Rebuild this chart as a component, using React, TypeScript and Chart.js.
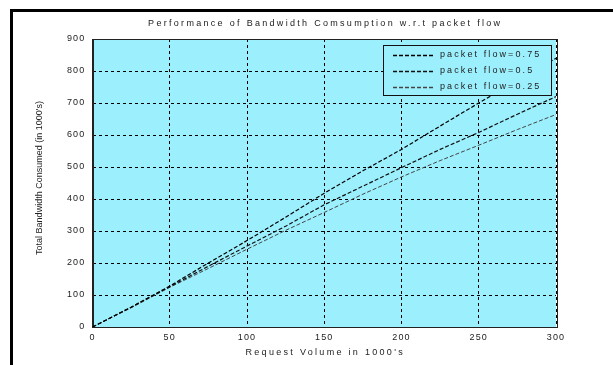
import React, { useEffect, useRef } from 'react';
import { Chart, registerables } from 'chart.js';

Chart.register(...registerables);

const chartTitle = 'Performance of Bandwidth Comsumption w.r.t packet flow';
const xAxisTitle = "Request Volume in 1000's";
const yAxisTitle = "Total Bandwidth Consumed (in 1000's)";

const requestVolume = [0, 25, 50, 75, 100, 125, 150, 175, 200, 225, 250, 275, 300];
const flow075 = [0, 62, 128, 200, 270, 343, 418, 488, 555, 628, 700, 770, 840];
const flow05 = [0, 62, 126, 190, 253, 315, 382, 440, 498, 555, 608, 665, 720];
const flow025 = [0, 60, 124, 183, 243, 302, 358, 415, 469, 520, 568, 617, 664];
const seriesLabels = ['packet flow=0.75', 'packet flow=0.5', 'packet flow=0.25'];
const seriesColors = ['#000000', '#111111', '#444444'];
const seriesWidths = [1.2, 1.2, 1];
const xMin = 0, xMax = 300, xStep = 50;
const yMin = 0, yMax = 900, yStep = 100;

const FONT = '"Liberation Sans", Arial, sans-serif';
const CYAN = '#9cf0fd';

const decorPlugin = {
  id: 'decor',
  afterUpdate(chart: any) {
    ['x', 'y'].forEach((id) => {
      const s = chart.scales[id];
      if (s && !s.__wrapped) {
        const orig = s.drawLabels.bind(s);
        s.drawLabels = (area: any) => {
          const ctx = chart.ctx;
          ctx.save();
          ctx.letterSpacing = '1.2px';
          orig(area);
          ctx.restore();
        };
        s.__wrapped = true;
      }
    });
  },
  beforeDraw(chart: any) {
    const { ctx, chartArea: a } = chart;
    ctx.save();
    ctx.fillStyle = '#ffffff';
    ctx.fillRect(0, 0, chart.width, chart.height);
    ctx.fillStyle = CYAN;
    ctx.fillRect(a.left, a.top, a.right - a.left, a.bottom - a.top);
    ctx.restore();
  },
  beforeDatasetsDraw(chart: any) {
    const { ctx, chartArea: a } = chart;
    ctx.save();
    ctx.strokeStyle = '#222';
    ctx.lineWidth = 1;
    ctx.strokeRect(Math.round(a.left) + 0.5, Math.round(a.top) + 0.5, Math.round(a.right - a.left), Math.round(a.bottom - a.top));
    ctx.restore();
  },
  afterDraw(chart: any) {
    const { ctx, chartArea: a } = chart;
    ctx.save();
    // outer frame (top and left edges)
    ctx.fillStyle = '#000';
    ctx.fillRect(10, 9, 3, chart.height - 9);
    ctx.fillRect(10, 9, chart.width - 10, 3);

    ctx.fillStyle = '#222';
    ctx.font = `9px ${FONT}`;
    ctx.textBaseline = 'middle';
    ctx.textAlign = 'center';
    const cx = (a.left + a.right) / 2;
    ctx.letterSpacing = '2.3px';
    ctx.fillText(chartTitle, cx + 1, 24);
    ctx.fillText(xAxisTitle, cx + 1, 353);
    ctx.letterSpacing = '0px';
    ctx.save();
    ctx.translate(40, 178);
    ctx.rotate(-Math.PI / 2);
    ctx.fillText(yAxisTitle, 0, 0);
    ctx.restore();

    // legend
    const lx = 383, ly = 45, lw = 168, lh = 50;
    ctx.fillStyle = CYAN;
    ctx.fillRect(lx, ly, lw, lh);
    ctx.strokeStyle = '#111';
    ctx.lineWidth = 1;
    ctx.strokeRect(lx + 0.5, ly + 0.5, lw, lh);
    chart.data.datasets.forEach((ds: any, i: number) => {
      const y = ly + 9.5 + i * 16;
      ctx.strokeStyle = ds.borderColor;
      ctx.lineWidth = 1.6;
      ctx.setLineDash([4, 2]);
      ctx.beginPath();
      ctx.moveTo(393, Math.round(y) + 0.5);
      ctx.lineTo(434, Math.round(y) + 0.5);
      ctx.stroke();
      ctx.setLineDash([]);
      ctx.fillStyle = '#222';
      ctx.textAlign = 'left';
      ctx.letterSpacing = '2.1px';
      ctx.fillText(ds.label, 440, y + 0.5);
    });
    ctx.restore();
  },
};

export default function App() {
  const ref = useRef<HTMLCanvasElement>(null);
  useEffect(() => {
    const canvas = ref.current;
    if (!canvas) return;
    const series = [flow075, flow05, flow025];
    const chart = new Chart(canvas, {
      type: 'line',
      data: {
        datasets: series.map((vals, i) => ({
          label: seriesLabels[i],
          data: requestVolume.map((x, j) => ({ x, y: vals[j] })),
          borderColor: seriesColors[i],
          borderWidth: seriesWidths[i],
          borderDash: [4, 2],
          pointRadius: 0,
          tension: 0,
          fill: false,
        })),
      },
      options: {
        responsive: false,
        animation: false,
        events: [],
        layout: { padding: { left: 0, right: 57, top: 39, bottom: 0 } },
        plugins: { legend: { display: false }, title: { display: false }, tooltip: { enabled: false } },
        scales: {
          x: {
            type: 'linear',
            min: xMin,
            max: xMax,
            afterFit: (s: any) => { s.height = 38; },
            ticks: { stepSize: xStep, color: '#222', font: { family: FONT, size: 9 }, padding: 5, maxRotation: 0 },
            grid: { color: '#000', lineWidth: 1, drawTicks: false },
            border: { display: true, color: '#222', width: 1, dash: [3, 3] },
          },
          y: {
            type: 'linear',
            min: yMin,
            max: yMax,
            afterFit: (s: any) => { s.width = 92.5; },
            ticks: { stepSize: yStep, color: '#222', font: { family: FONT, size: 9 }, padding: 7 },
            grid: { color: '#000', lineWidth: 1, drawTicks: false },
            border: { display: true, color: '#222', width: 1, dash: [3, 3] },
          },
        },
      },
      plugins: [decorPlugin],
    });
    return () => chart.destroy();
  }, []);
  return (
    <div style={{ position: 'fixed', left: 0, top: 0, width: 613, height: 365, background: '#fff' }}>
      <canvas ref={ref} width={613} height={365} style={{ display: 'block' }} />
    </div>
  );
}
